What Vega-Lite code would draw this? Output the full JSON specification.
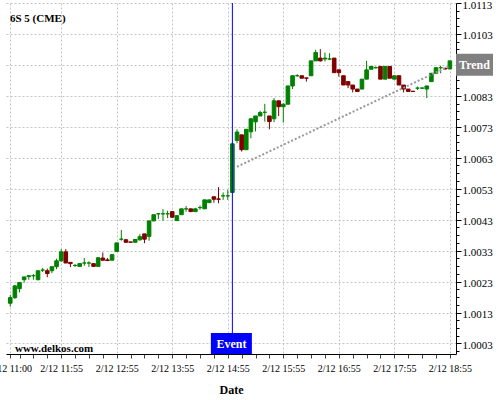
{
  "$schema": "https://vega.github.io/schema/vega-lite/v6.json",
  "width": 450,
  "height": 351,
  "autosize": {"type": "none"},
  "padding": {"left": 6, "top": 3, "right": 44, "bottom": 46},
  "background": "white",
  "config": {"view": {"stroke": null}, "font": "Liberation Serif"},
  "resolve": {"scale": {"y": "shared"}, "axis": {"y": "independent"}},
  "data": {
    "format": {"parse": {"t": "utc:'%m/%d %H:%M'"}},
    "values": [
      {"t": "2/12 11:00", "o": 1.00160, "h": 1.00187, "l": 1.00149, "c": 1.00178},
      {"t": "2/12 11:05", "o": 1.00178, "h": 1.00219, "l": 1.00174, "c": 1.00216},
      {"t": "2/12 11:10", "o": 1.00207, "h": 1.00229, "l": 1.00195, "c": 1.00227},
      {"t": "2/12 11:15", "o": 1.00236, "h": 1.00245, "l": 1.00227, "c": 1.00245},
      {"t": "2/12 11:20", "o": 1.00246, "h": 1.00249, "l": 1.00236, "c": 1.00249},
      {"t": "2/12 11:25", "o": 1.00249, "h": 1.00254, "l": 1.00236, "c": 1.00249},
      {"t": "2/12 11:30", "o": 1.00236, "h": 1.00265, "l": 1.00234, "c": 1.00265},
      {"t": "2/12 11:35", "o": 1.00267, "h": 1.00274, "l": 1.00261, "c": 1.00267},
      {"t": "2/12 11:40", "o": 1.00265, "h": 1.00272, "l": 1.00244, "c": 1.00256},
      {"t": "2/12 11:45", "o": 1.00265, "h": 1.00279, "l": 1.00257, "c": 1.00278},
      {"t": "2/12 11:50", "o": 1.00278, "h": 1.00304, "l": 1.00270, "c": 1.00297},
      {"t": "2/12 11:55", "o": 1.00297, "h": 1.00335, "l": 1.00294, "c": 1.00326},
      {"t": "2/12 12:00", "o": 1.00326, "h": 1.00335, "l": 1.00290, "c": 1.00290},
      {"t": "2/12 12:05", "o": 1.00292, "h": 1.00292, "l": 1.00277, "c": 1.00288},
      {"t": "2/12 12:10", "o": 1.00282, "h": 1.00287, "l": 1.00277, "c": 1.00282},
      {"t": "2/12 12:15", "o": 1.00279, "h": 1.00288, "l": 1.00279, "c": 1.00288},
      {"t": "2/12 12:20", "o": 1.00290, "h": 1.00306, "l": 1.00281, "c": 1.00290},
      {"t": "2/12 12:25", "o": 1.00290, "h": 1.00295, "l": 1.00277, "c": 1.00290},
      {"t": "2/12 12:30", "o": 1.00288, "h": 1.00288, "l": 1.00279, "c": 1.00279},
      {"t": "2/12 12:35", "o": 1.00279, "h": 1.00307, "l": 1.00279, "c": 1.00307},
      {"t": "2/12 12:40", "o": 1.00306, "h": 1.00324, "l": 1.00298, "c": 1.00299},
      {"t": "2/12 12:45", "o": 1.00300, "h": 1.00306, "l": 1.00296, "c": 1.00298},
      {"t": "2/12 12:50", "o": 1.00299, "h": 1.00317, "l": 1.00299, "c": 1.00317},
      {"t": "2/12 12:55", "o": 1.00327, "h": 1.00355, "l": 1.00327, "c": 1.00355},
      {"t": "2/12 13:00", "o": 1.00367, "h": 1.00397, "l": 1.00362, "c": 1.00367},
      {"t": "2/12 13:05", "o": 1.00365, "h": 1.00368, "l": 1.00355, "c": 1.00357},
      {"t": "2/12 13:10", "o": 1.00358, "h": 1.00358, "l": 1.00357, "c": 1.00357},
      {"t": "2/12 13:15", "o": 1.00357, "h": 1.00366, "l": 1.00357, "c": 1.00366},
      {"t": "2/12 13:20", "o": 1.00365, "h": 1.00383, "l": 1.00362, "c": 1.00375},
      {"t": "2/12 13:25", "o": 1.00384, "h": 1.00384, "l": 1.00354, "c": 1.00367},
      {"t": "2/12 13:30", "o": 1.00376, "h": 1.00426, "l": 1.00362, "c": 1.00426},
      {"t": "2/12 13:35", "o": 1.00426, "h": 1.00446, "l": 1.00426, "c": 1.00446},
      {"t": "2/12 13:40", "o": 1.00449, "h": 1.00451, "l": 1.00432, "c": 1.00449},
      {"t": "2/12 13:45", "o": 1.00449, "h": 1.00464, "l": 1.00426, "c": 1.00449},
      {"t": "2/12 13:50", "o": 1.00449, "h": 1.00459, "l": 1.00435, "c": 1.00449},
      {"t": "2/12 13:55", "o": 1.00456, "h": 1.00456, "l": 1.00435, "c": 1.00438},
      {"t": "2/12 14:00", "o": 1.00427, "h": 1.00443, "l": 1.00427, "c": 1.00443},
      {"t": "2/12 14:05", "o": 1.00446, "h": 1.00465, "l": 1.00446, "c": 1.00465},
      {"t": "2/12 14:10", "o": 1.00465, "h": 1.00474, "l": 1.00456, "c": 1.00465},
      {"t": "2/12 14:15", "o": 1.00465, "h": 1.00465, "l": 1.00456, "c": 1.00456},
      {"t": "2/12 14:20", "o": 1.00456, "h": 1.00468, "l": 1.00455, "c": 1.00465},
      {"t": "2/12 14:25", "o": 1.00469, "h": 1.00476, "l": 1.00462, "c": 1.00469},
      {"t": "2/12 14:30", "o": 1.00465, "h": 1.00494, "l": 1.00465, "c": 1.00494},
      {"t": "2/12 14:35", "o": 1.00485, "h": 1.00494, "l": 1.00485, "c": 1.00494},
      {"t": "2/12 14:40", "o": 1.00504, "h": 1.00504, "l": 1.00485, "c": 1.00496},
      {"t": "2/12 14:45", "o": 1.00497, "h": 1.00535, "l": 1.00483, "c": 1.00496},
      {"t": "2/12 14:50", "o": 1.00507, "h": 1.00518, "l": 1.00494, "c": 1.00507},
      {"t": "2/12 14:55", "o": 1.00507, "h": 1.00526, "l": 1.00494, "c": 1.00507},
      {"t": "2/12 15:00", "o": 1.00518, "h": 1.00678, "l": 1.00518, "c": 1.00675},
      {"t": "2/12 15:05", "o": 1.00686, "h": 1.00722, "l": 1.00677, "c": 1.00713},
      {"t": "2/12 15:10", "o": 1.00704, "h": 1.00704, "l": 1.00650, "c": 1.00656},
      {"t": "2/12 15:15", "o": 1.00656, "h": 1.00722, "l": 1.00656, "c": 1.00722},
      {"t": "2/12 15:20", "o": 1.00714, "h": 1.00756, "l": 1.00693, "c": 1.00756},
      {"t": "2/12 15:25", "o": 1.00746, "h": 1.00765, "l": 1.00715, "c": 1.00765},
      {"t": "2/12 15:30", "o": 1.00765, "h": 1.00782, "l": 1.00765, "c": 1.00776},
      {"t": "2/12 15:35", "o": 1.00777, "h": 1.00804, "l": 1.00747, "c": 1.00777},
      {"t": "2/12 15:40", "o": 1.00765, "h": 1.00765, "l": 1.00722, "c": 1.00747},
      {"t": "2/12 15:45", "o": 1.00756, "h": 1.00823, "l": 1.00745, "c": 1.00814},
      {"t": "2/12 15:50", "o": 1.00814, "h": 1.00814, "l": 1.00765, "c": 1.00795},
      {"t": "2/12 15:55", "o": 1.00795, "h": 1.00806, "l": 1.00744, "c": 1.00803},
      {"t": "2/12 16:00", "o": 1.00803, "h": 1.00862, "l": 1.00803, "c": 1.00862},
      {"t": "2/12 16:05", "o": 1.00862, "h": 1.00895, "l": 1.00852, "c": 1.00895},
      {"t": "2/12 16:10", "o": 1.00895, "h": 1.00900, "l": 1.00892, "c": 1.00895},
      {"t": "2/12 16:15", "o": 1.00895, "h": 1.00895, "l": 1.00887, "c": 1.00887},
      {"t": "2/12 16:20", "o": 1.00888, "h": 1.00888, "l": 1.00876, "c": 1.00887},
      {"t": "2/12 16:25", "o": 1.00895, "h": 1.00943, "l": 1.00895, "c": 1.00943},
      {"t": "2/12 16:30", "o": 1.00943, "h": 1.00979, "l": 1.00943, "c": 1.00970},
      {"t": "2/12 16:35", "o": 1.00952, "h": 1.00981, "l": 1.00941, "c": 1.00943},
      {"t": "2/12 16:40", "o": 1.00949, "h": 1.00970, "l": 1.00941, "c": 1.00952},
      {"t": "2/12 16:45", "o": 1.00949, "h": 1.00968, "l": 1.00946, "c": 1.00949},
      {"t": "2/12 16:50", "o": 1.00952, "h": 1.00952, "l": 1.00905, "c": 1.00905},
      {"t": "2/12 16:55", "o": 1.00914, "h": 1.00914, "l": 1.00892, "c": 1.00905},
      {"t": "2/12 17:00", "o": 1.00895, "h": 1.00895, "l": 1.00865, "c": 1.00865},
      {"t": "2/12 17:05", "o": 1.00876, "h": 1.00876, "l": 1.00855, "c": 1.00865},
      {"t": "2/12 17:10", "o": 1.00865, "h": 1.00865, "l": 1.00841, "c": 1.00852},
      {"t": "2/12 17:15", "o": 1.00852, "h": 1.00852, "l": 1.00844, "c": 1.00844},
      {"t": "2/12 17:20", "o": 1.00852, "h": 1.00884, "l": 1.00852, "c": 1.00884},
      {"t": "2/12 17:25", "o": 1.00884, "h": 1.00943, "l": 1.00884, "c": 1.00914},
      {"t": "2/12 17:30", "o": 1.00916, "h": 1.00925, "l": 1.00916, "c": 1.00925},
      {"t": "2/12 17:35", "o": 1.00921, "h": 1.00925, "l": 1.00918, "c": 1.00921},
      {"t": "2/12 17:40", "o": 1.00925, "h": 1.00925, "l": 1.00884, "c": 1.00884},
      {"t": "2/12 17:45", "o": 1.00884, "h": 1.00925, "l": 1.00884, "c": 1.00925},
      {"t": "2/12 17:50", "o": 1.00925, "h": 1.00925, "l": 1.00887, "c": 1.00887},
      {"t": "2/12 17:55", "o": 1.00884, "h": 1.00895, "l": 1.00884, "c": 1.00895},
      {"t": "2/12 18:00", "o": 1.00895, "h": 1.00895, "l": 1.00865, "c": 1.00865},
      {"t": "2/12 18:05", "o": 1.00865, "h": 1.00865, "l": 1.00841, "c": 1.00852},
      {"t": "2/12 18:10", "o": 1.00852, "h": 1.00852, "l": 1.00844, "c": 1.00844},
      {"t": "2/12 18:15", "o": 1.00845, "h": 1.00845, "l": 1.00844, "c": 1.00844},
      {"t": "2/12 18:20", "o": 1.00855, "h": 1.00860, "l": 1.00849, "c": 1.00855},
      {"t": "2/12 18:25", "o": 1.00855, "h": 1.00858, "l": 1.00852, "c": 1.00855},
      {"t": "2/12 18:30", "o": 1.00852, "h": 1.00862, "l": 1.00823, "c": 1.00862},
      {"t": "2/12 18:35", "o": 1.00876, "h": 1.00903, "l": 1.00876, "c": 1.00903},
      {"t": "2/12 18:40", "o": 1.00903, "h": 1.00921, "l": 1.00903, "c": 1.00921},
      {"t": "2/12 18:45", "o": 1.00921, "h": 1.00927, "l": 1.00903, "c": 1.00921},
      {"t": "2/12 18:50", "o": 1.00919, "h": 1.00921, "l": 1.00915, "c": 1.00917},
      {"t": "2/12 18:55", "o": 1.00917, "h": 1.00943, "l": 1.00917, "c": 1.00943}
    ]
  },
  "encoding": {
    "x": {
      "field": "t",
      "type": "temporal",
      "scale": {
        "type": "utc",
        "padding": 0,
        "nice": false,
        "domain": [
          {"year": 1900, "month": 2, "date": 12, "hours": 10, "minutes": 55, "seconds": 24, "utc": true},
          {"year": 1900, "month": 2, "date": 12, "hours": 19, "minutes": 1, "seconds": 36, "utc": true}
        ]
      },
      "axis": {
        "title": "Date",
        "titleFont": "Liberation Serif",
        "titleFontSize": 12,
        "titleFontWeight": "bold",
        "titleColor": "black",
        "titlePadding": 11,
        "values": [
          {"year": 1900, "month": 2, "date": 12, "hours": 11, "minutes": 0, "utc": true},
          {"year": 1900, "month": 2, "date": 12, "hours": 11, "minutes": 10, "utc": true},
          {"year": 1900, "month": 2, "date": 12, "hours": 11, "minutes": 25, "utc": true},
          {"year": 1900, "month": 2, "date": 12, "hours": 11, "minutes": 40, "utc": true},
          {"year": 1900, "month": 2, "date": 12, "hours": 11, "minutes": 55, "utc": true},
          {"year": 1900, "month": 2, "date": 12, "hours": 12, "minutes": 10, "utc": true},
          {"year": 1900, "month": 2, "date": 12, "hours": 12, "minutes": 25, "utc": true},
          {"year": 1900, "month": 2, "date": 12, "hours": 12, "minutes": 40, "utc": true},
          {"year": 1900, "month": 2, "date": 12, "hours": 12, "minutes": 55, "utc": true},
          {"year": 1900, "month": 2, "date": 12, "hours": 13, "minutes": 10, "utc": true},
          {"year": 1900, "month": 2, "date": 12, "hours": 13, "minutes": 25, "utc": true},
          {"year": 1900, "month": 2, "date": 12, "hours": 13, "minutes": 40, "utc": true},
          {"year": 1900, "month": 2, "date": 12, "hours": 13, "minutes": 55, "utc": true},
          {"year": 1900, "month": 2, "date": 12, "hours": 14, "minutes": 10, "utc": true},
          {"year": 1900, "month": 2, "date": 12, "hours": 14, "minutes": 25, "utc": true},
          {"year": 1900, "month": 2, "date": 12, "hours": 14, "minutes": 40, "utc": true},
          {"year": 1900, "month": 2, "date": 12, "hours": 14, "minutes": 55, "utc": true},
          {"year": 1900, "month": 2, "date": 12, "hours": 15, "minutes": 10, "utc": true},
          {"year": 1900, "month": 2, "date": 12, "hours": 15, "minutes": 25, "utc": true},
          {"year": 1900, "month": 2, "date": 12, "hours": 15, "minutes": 40, "utc": true},
          {"year": 1900, "month": 2, "date": 12, "hours": 15, "minutes": 55, "utc": true},
          {"year": 1900, "month": 2, "date": 12, "hours": 16, "minutes": 10, "utc": true},
          {"year": 1900, "month": 2, "date": 12, "hours": 16, "minutes": 25, "utc": true},
          {"year": 1900, "month": 2, "date": 12, "hours": 16, "minutes": 40, "utc": true},
          {"year": 1900, "month": 2, "date": 12, "hours": 16, "minutes": 55, "utc": true},
          {"year": 1900, "month": 2, "date": 12, "hours": 17, "minutes": 10, "utc": true},
          {"year": 1900, "month": 2, "date": 12, "hours": 17, "minutes": 25, "utc": true},
          {"year": 1900, "month": 2, "date": 12, "hours": 17, "minutes": 40, "utc": true},
          {"year": 1900, "month": 2, "date": 12, "hours": 17, "minutes": 55, "utc": true},
          {"year": 1900, "month": 2, "date": 12, "hours": 18, "minutes": 10, "utc": true},
          {"year": 1900, "month": 2, "date": 12, "hours": 18, "minutes": 25, "utc": true},
          {"year": 1900, "month": 2, "date": 12, "hours": 18, "minutes": 40, "utc": true},
          {"year": 1900, "month": 2, "date": 12, "hours": 18, "minutes": 55, "utc": true}
        ],
        "labelExpr": "(utcminutes(datum.value) == 55 || (utchours(datum.value) == 11 && utcminutes(datum.value) == 0)) ? utcFormat(datum.value, '%-m/%d %H:%M') : ''",
        "labelFont": "Liberation Serif",
        "labelFontSize": 10,
        "labelColor": "black",
        "labelPadding": 5,
        "labelFlush": false,
        "labelOverlap": false,
        "labelBound": false,
        "tickSize": 4,
        "tickColor": "#444444",
        "domainColor": "black",
        "domainWidth": 1,
        "grid": true,
        "gridColor": "#c4c4c4",
        "gridDash": [2, 2],
        "gridOpacity": {"condition": {"test": "utcminutes(datum.value) == 55 || utcminutes(datum.value) == 0", "value": 1}, "value": 0}
      }
    }
  },
  "layer": [
    {
      "mark": {"type": "rule", "strokeWidth": 1},
      "encoding": {
        "y": {
          "field": "l",
          "type": "quantitative",
          "scale": {"domain": [0.99996, 1.0113], "nice": false, "zero": false},
          "axis": {
            "orient": "right",
            "title": null,
            "zindex": 0,
            "values": [1.0003, 1.0013, 1.0023, 1.0033, 1.0043, 1.0053, 1.0063, 1.0073, 1.0083, 1.0093, 1.0103, 1.0113],
            "format": ".4f",
            "labelFont": "Liberation Serif",
            "labelFontSize": 11,
            "labelColor": "black",
            "labelPadding": 1,
            "labelOffset": 2,
            "labelOverlap": false,
            "labelBound": false,
            "labelFlush": false,
            "tickColor": "black",
            "tickSize": 5,
            "domainColor": "black",
            "grid": true,
            "gridColor": "#c4c4c4",
            "gridDash": [2, 2]
          }
        },
        "y2": {"field": "h"},
        "color": {"condition": {"test": "datum.c < datum.o", "value": "#800000"}, "value": "#008000"}
      }
    },
    {
      "mark": {"type": "bar", "width": 3.6, "strokeWidth": 1},
      "encoding": {
        "y": {
          "field": "o",
          "type": "quantitative",
          "axis": {
            "orient": "right",
            "title": null,
            "zindex": 0,
            "values": [1.00005, 1.00055, 1.0008, 1.00105, 1.00155, 1.0018, 1.00205, 1.00255, 1.0028, 1.00305, 1.00355, 1.0038, 1.00405, 1.00455, 1.0048, 1.00505, 1.00555, 1.0058, 1.00605, 1.00655, 1.0068, 1.00705, 1.00755, 1.0078, 1.00805, 1.00855, 1.0088, 1.00905, 1.00955, 1.0098, 1.01005, 1.01055, 1.0108, 1.01105],
            "labels": false,
            "grid": false,
            "domain": false,
            "tickColor": "black",
            "tickSize": 3
          }
        },
        "y2": {"field": "c"},
        "color": {"condition": {"test": "datum.c < datum.o", "value": "#800000"}, "value": "#008000"},
        "stroke": {"condition": {"test": "datum.c < datum.o", "value": "#800000"}, "value": "#008000"}
      }
    },
    {
      "data": {
        "format": {"parse": {"t": "utc:'%m/%d %H:%M'"}},
        "values": [
          {"t": "2/12 15:05", "v": 1.00601},
          {"t": "2/12 18:55", "v": 1.00927}
        ]
      },
      "mark": {"type": "line", "color": "#999999", "strokeWidth": 2, "strokeDash": [2, 2]},
      "encoding": {"y": {"field": "v", "type": "quantitative", "axis": null}}
    },
    {
      "data": {
        "format": {"parse": {"t": "utc:'%m/%d %H:%M'"}},
        "values": [{"t": "2/12 15:00", "label": "Event"}]
      },
      "layer": [
        {"mark": {"type": "rule", "color": "#0000ff", "strokeWidth": 1}, "encoding": {}},
        {
          "mark": {"type": "point", "shape": "M-1,-0.512H1V0.512H-1Z", "size": 1681, "filled": true, "fill": "#0000ff", "opacity": 1, "strokeWidth": 0, "xOffset": -1, "yOffset": -10.5},
          "encoding": {"y": {"datum": 0.99996, "type": "quantitative", "axis": null}}
        },
        {
          "mark": {"type": "text", "color": "white", "font": "Liberation Serif", "fontSize": 12, "fontWeight": "bold", "align": "center", "baseline": "middle", "xOffset": -1, "yOffset": -10},
          "encoding": {"y": {"datum": 0.99996, "type": "quantitative", "axis": null}, "text": {"field": "label"}}
        }
      ]
    },
    {
      "data": {
        "format": {"parse": {"t": "utc:'%m/%d %H:%M'"}},
        "values": [{"t": "2/12 18:55", "v": 1.00927, "label": "Trend"}]
      },
      "layer": [
        {
          "mark": {"type": "point", "shape": "M-1,-0.595H1V0.595H-1Z", "size": 1369, "filled": true, "fill": "#808080", "opacity": 1, "strokeWidth": 0, "xOffset": 24.6, "yOffset": -1},
          "encoding": {"y": {"field": "v", "type": "quantitative", "axis": null}}
        },
        {
          "mark": {"type": "text", "color": "white", "font": "Liberation Serif", "fontSize": 12, "fontWeight": "bold", "align": "center", "baseline": "middle", "xOffset": 24.6, "yOffset": -0.5},
          "encoding": {"y": {"field": "v", "type": "quantitative", "axis": null}, "text": {"field": "label"}}
        }
      ]
    },
    {
      "data": {
        "format": {"parse": {"t": "utc:'%m/%d %H:%M'"}},
        "values": [{"t": "2/12 11:00", "label": "www.delkos.com"}]
      },
      "mark": {"type": "text", "color": "black", "font": "Liberation Serif", "fontSize": 11, "fontWeight": "bold", "align": "left", "baseline": "alphabetic", "dx": 4.7, "dy": -2},
      "encoding": {
        "y": {"datum": 0.99996, "type": "quantitative", "axis": null},
        "text": {"field": "label"}
      }
    },
    {
      "data": {
        "format": {"parse": {"t": "utc:'%m/%d %H:%M'"}},
        "values": [{"t": "2/12 11:00", "label": "6S 5 (CME)"}]
      },
      "mark": {"type": "text", "color": "black", "font": "Liberation Serif", "fontSize": 11, "fontWeight": "bold", "align": "left", "baseline": "alphabetic", "dx": -0.3, "dy": 19},
      "encoding": {
        "y": {"datum": 1.0113, "type": "quantitative", "axis": null},
        "text": {"field": "label"}
      }
    }
  ]
}
